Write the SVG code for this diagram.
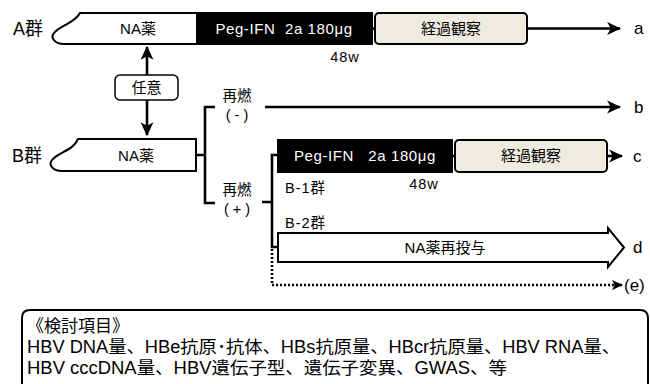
<svg xmlns="http://www.w3.org/2000/svg" width="650" height="384" viewBox="0 0 650 384">
<style>
text{font-family:"Liberation Sans","Noto Sans CJK JP",sans-serif;fill:#000}
.bar{fill:#fff;stroke:#000;stroke-width:2}
.blk{fill:#000;stroke:#000;stroke-width:2}
.obs{fill:#eeece1;stroke:#000;stroke-width:2}
.ln{fill:none;stroke:#000;stroke-width:2.6}
.dot{fill:none;stroke:#000;stroke-width:2.6;stroke-dasharray:2 2}
.w{fill:#fff}
.t14{font-size:14.5px}
.t15{font-size:15px}
.t17{font-size:17px}
</style>
<defs>
<marker id="ah" viewBox="0 0 12 12" refX="11" refY="6" markerWidth="14" markerHeight="14" markerUnits="userSpaceOnUse" orient="auto">
<path d="M0,0.5 L12,6 L0,11.5 L3,6 Z" fill="#000"/>
</marker>
<marker id="ahs" viewBox="0 0 12 12" refX="11" refY="6" markerWidth="11" markerHeight="11" markerUnits="userSpaceOnUse" orient="auto">
<path d="M0,0.5 L12,6 L0,11.5 L3,6 Z" fill="#000"/>
</marker>
</defs>
<g id="labelA"><text x="13" y="35" font-size="18">A群</text></g>
<g id="labelB"><text x="12" y="162" font-size="18">B群</text></g>
<g id="A-na">
<path class="bar" d="M80,13 L197,13 L197,44 L64,44 C55,44 50,38 54,33 C60,25 74,24 80,13 Z"/>
<text x="138" y="34" class="t15" text-anchor="middle">NA薬</text>
</g>
<g id="A-peg">
<rect class="blk" x="197" y="13" width="175" height="31"/>
<text x="284" y="34" class="t15 w" text-anchor="middle" letter-spacing="0.6" xml:space="preserve">Peg-IFN  2a 180μg</text>
</g>
<g id="A-obs">
<rect class="obs" x="375" y="13" width="152" height="31" rx="4"/>
<text x="451" y="34" class="t15" text-anchor="middle">経過観察</text>
</g>
<g id="A-48w"><text x="345" y="62" class="t14" text-anchor="middle" letter-spacing="1">48w</text></g>
<g id="opt">
<rect x="115" y="75" width="63" height="25" rx="5" fill="#fff" stroke="#000" stroke-width="1.5"/>
<text x="146.5" y="93" class="t15" text-anchor="middle">任意</text>
</g>
<g id="B-na">
<path class="bar" d="M78,139 L196,139 L196,171 L62,171 C53,171 48,165 52,160 C58,152 73,151 78,139 Z"/>
<text x="136" y="161" class="t15" text-anchor="middle">NA薬</text>
</g>
<g id="relapse-neg">
<text x="237" y="101" class="t14" text-anchor="middle">再燃</text>
<text x="237" y="120" class="t14" text-anchor="middle" xml:space="preserve">( - )</text>
</g>
<g id="relapse-pos">
<text x="237" y="195" class="t14" text-anchor="middle">再燃</text>
<text x="237" y="214" class="t14" text-anchor="middle" xml:space="preserve">( + )</text>
</g>
<g id="B1-peg">
<rect class="blk" x="278" y="140" width="174" height="32"/>
<text x="365" y="161" class="t15 w" text-anchor="middle" letter-spacing="0.6" xml:space="preserve">Peg-IFN   2a 180μg</text>
</g>
<g id="B1-obs">
<rect class="obs" x="455" y="140" width="152" height="32" rx="4"/>
<text x="531" y="161" class="t15" text-anchor="middle">経過観察</text>
</g>
<g id="B1-label"><text x="285" y="193" class="t14" letter-spacing="1">B-1群</text></g>
<g id="B1-48w"><text x="424" y="189" class="t14" text-anchor="middle" letter-spacing="1">48w</text></g>
<g id="B2-label"><text x="285" y="228" class="t14" letter-spacing="1">B-2群</text></g>
<g id="B2-na">
<path class="bar" d="M278,233 L608,233 L608,228 L624,247.5 L608,267 L608,262 L278,262 Z"/>
<text x="445" y="253" class="t15" text-anchor="middle">NA薬再投与</text>
</g>
<g id="outcomes">
<text x="634" y="34" class="t17">a</text>
<text x="634" y="113" class="t17">b</text>
<text x="633" y="162" class="t17">c</text>
<text x="633" y="253" class="t17">d</text>
<text x="624" y="291" class="t17">(e)</text>
</g>
<g id="connectors">
<line class="ln" x1="147" y1="75" x2="147" y2="47" marker-end="url(#ah)"/>
<line class="ln" x1="147" y1="100" x2="147" y2="135" marker-end="url(#ah)"/>
<line class="ln" x1="372" y1="28.5" x2="375" y2="28.5"/>
<line class="ln" x1="527" y1="28.5" x2="620" y2="28.5" marker-end="url(#ah)"/>
<path class="ln" d="M196,155 H205 M215,107 H205 V203 H215"/>
<line class="ln" x1="265" y1="107" x2="620" y2="107" marker-end="url(#ah)"/>
<path class="ln" d="M262,202 H272 M278,155 H272 V247 H278"/>
<line class="ln" x1="452" y1="156" x2="455" y2="156"/>
<line class="ln" x1="607" y1="156" x2="622" y2="156" marker-end="url(#ah)"/>
<path class="dot" d="M272,249 V285 H622" marker-end="url(#ahs)"/>
</g>
<g id="notes">
<path d="M22,392 V318 Q22,310 30,310 H640 Q648,310 648,318 V392" fill="#fff" stroke="#000" stroke-width="2"/>
<text x="27" y="332" font-size="17.5" textLength="102" lengthAdjust="spacingAndGlyphs">《検討項目》</text>
<text x="27" y="353" font-size="17.5" textLength="593" lengthAdjust="spacingAndGlyphs">HBV DNA量、HBe抗原･抗体、HBs抗原量、HBcr抗原量、HBV RNA量、</text>
<text x="27" y="374" font-size="17.5" textLength="480" lengthAdjust="spacingAndGlyphs">HBV cccDNA量、HBV遺伝子型、遺伝子変異、GWAS、等</text>
</g>
</svg>
